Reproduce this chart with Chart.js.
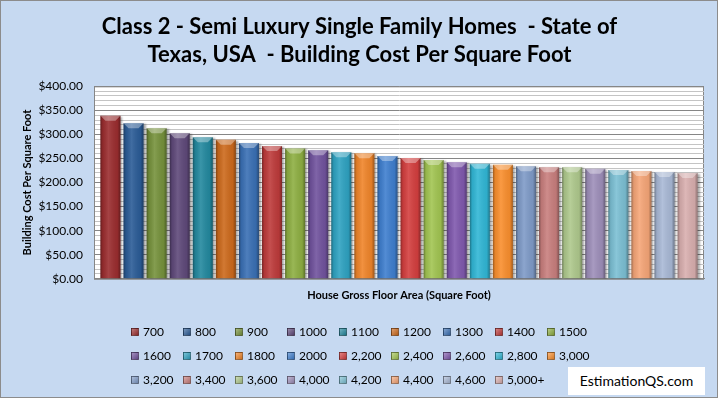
<!DOCTYPE html>
<html>
<head>
<meta charset="utf-8">
<script src="https://cdn.jsdelivr.net/npm/chart.js@4.4.1/dist/chart.umd.min.js"></script>
<style>
html, body { margin: 0; padding: 0; background: #fff; }
#box { position: relative; width: 716px; height: 396px; border: 1px solid #8c8c8c; background: #c6d9f1; }
#site { position: absolute; left: 567px; top: 366px; width: 137px; height: 28px; background: #fff;
        font: 14px Lato, sans-serif; line-height: 28px; text-align: center; color: #000; }
#legend { position: absolute; left: 130px; top: 319px; width: 468px; font: 12px Lato, sans-serif; color: #000; }
#legend span.item { display: inline-block; width: 52px; height: 24px; line-height: 24px; white-space: nowrap; }
#legend span.sw { display: inline-block; width: 6px; height: 6px; margin-right: 4px; vertical-align: -0px;
                  border: 1px solid rgba(0,0,0,0.35); }
</style>
</head>
<body>
<div id="box">
  <canvas id="myChart" width="716" height="396"></canvas>
  <div id="legend"></div>
  <div id="site">EstimationQS.com</div>
</div>
<script>
// house size bands (sq ft) and what each costs per sq ft
var categories = ['700', '800', '900', '1000', '1100', '1200', '1300', '1400', '1500',
                  '1600', '1700', '1800', '2000', '2,200', '2,400', '2,600', '2,800', '3,000',
                  '3,200', '3,400', '3,600', '4,000', '4,200', '4,400', '4,600', '5,000+']
var costPerSqFt = [339, 323, 313, 302.5, 294, 289, 282, 276, 271,
                   267, 263, 261, 255, 251, 247, 242, 239, 237,
                   234, 232, 232, 228.5, 226, 224, 222, 220]
var barColors = ['#9b2d2f', '#2b5c97', '#76923c', '#5f497a', '#23899f', '#cd6a1c', '#3a70b5', '#be3b3b', '#8eaf42',
                 '#71539e', '#2fa3c2', '#f0852a', '#3f7fcf', '#d43f3f', '#a2c552', '#8059ae', '#31b7d6', '#fa8f2e',
                 '#7f9bc8', '#c97f7e', '#afc98d', '#9e8fba', '#7cc0d4', '#f6a678', '#a9b9d6', '#d9afaf']
var yTicks = [0, 400, 10]   // min, max, step

var font = 'Lato'

// white plot area with a grey frame
var plotBg = {
    id: 'plotBg',
    beforeDraw: function(chart) {
        var a = chart.chartArea, c = chart.ctx
        c.save()
        c.fillStyle = '#fff'
        c.fillRect(a.left, a.top, a.right - a.left, a.bottom - a.top)
        c.strokeStyle = '#868686'
        c.lineWidth = 1
        c.strokeRect(a.left + 0.5, a.top + 0.5, a.right - a.left - 1, a.bottom - a.top)
        c.restore()
    }
}

// excel style shading: drop shadow, rounded look and a bevelled top
var shade = {
    id: 'shade',
    beforeDatasetsDraw: function(chart) {
        var c = chart.ctx
        c.save()
        c.shadowColor = 'rgba(0,0,0,0.35)'
        c.shadowOffsetX = 2
        c.shadowOffsetY = 1
        c.shadowBlur = 2
    },
    afterDatasetsDraw: function(chart) {
        var c = chart.ctx
        c.restore()
        c.save()
        chart.data.datasets.forEach(function(ds, i) {
            chart.getDatasetMeta(i).data.forEach(function(bar) {
                var p = bar.getProps(['x', 'y', 'base', 'width'], true)
                var l = p.x - p.width / 2, h = p.base - p.y
                var g = c.createLinearGradient(l, 0, l + p.width, 0)
                g.addColorStop(0, 'rgba(0,0,0,0.35)')
                g.addColorStop(0.12, 'rgba(0,0,0,0.08)')
                g.addColorStop(0.4, 'rgba(255,255,255,0.10)')
                g.addColorStop(0.85, 'rgba(0,0,0,0.06)')
                g.addColorStop(1, 'rgba(0,0,0,0.35)')
                c.fillStyle = g
                c.fillRect(l, p.y, p.width, h)
                var t = Math.min(5, h / 2)
                c.fillStyle = 'rgba(255,255,255,0.35)'
                c.beginPath()
                c.moveTo(l, p.y)
                c.lineTo(l + p.width, p.y)
                c.lineTo(l + p.width - t, p.y + t)
                c.lineTo(l + t, p.y + t)
                c.closePath()
                c.fill()
            })
        })
        c.restore()
    }
}

// excel lays the legend out as a fixed grid, 9 per row, so build it as html
var htmlLegend = {
    id: 'htmlLegend',
    afterUpdate: function(chart) {
        var box = document.getElementById('legend')
        box.innerHTML = ''
        chart.data.datasets.forEach(function(ds, i) {
            var item = document.createElement('span')
            item.className = 'item'
            var sw = document.createElement('span')
            sw.className = 'sw'
            sw.style.background = 'linear-gradient(135deg, rgba(255,255,255,0.35), rgba(0,0,0,0.15)), ' + ds.backgroundColor
            item.appendChild(sw)
            item.appendChild(document.createTextNode(ds.label))
            box.appendChild(item)
        })
    }
}

var datasets = categories.map(function(cat, i) {
    return {
        label: cat,
        data: [costPerSqFt[i]],
        backgroundColor: barColors[i],
        borderWidth: 0,
        categoryPercentage: 0.984,
        barPercentage: 0.867
    }
})

var ctx = document.getElementById('myChart')
var myChart = new Chart(ctx, {
    type: 'bar',
    data: { labels: [''], datasets: datasets },
    plugins: [plotBg, shade, htmlLegend],
    options: {
        responsive: false,
        animation: false,
        layout: { padding: { left: 14, right: 13, top: 0, bottom: 91 } },
        plugins: {
            title: {
                display: true,
                text: ['Class 2 - Semi Luxury Single Family Homes  - State of',
                       'Texas, USA  - Building Cost Per Square Foot'],
                color: '#000',
                font: { family: font, size: 22, weight: 'bold', lineHeight: 1.28 },
                padding: { top: 12, bottom: 17 }
            },
            legend: { display: false },
            tooltip: { enabled: false }
        },
        scales: {
            x: {
                grid: { display: false, drawTicks: false },
                ticks: { display: false },
                border: { display: true, color: '#868686' },
                title: {
                    display: true,
                    text: 'House Gross Floor Area (Square Foot)',
                    color: '#000',
                    font: { family: font, size: 11, weight: 'bold' },
                    padding: { top: 10, bottom: 4 }
                }
            },
            y: {
                min: yTicks[0],
                max: yTicks[1],
                afterFit: function(scale) { scale.width = 79 },
                grid: {
                    drawTicks: false,
                    color: function(c) { return c.tick && c.tick.value % 50 === 0 ? '#868686' : '#c4c4c4' }
                },
                border: { display: true, color: '#868686' },
                ticks: {
                    stepSize: yTicks[2],
                    autoSkip: false,
                    padding: 11,
                    color: '#000',
                    font: { family: font, size: 12 },
                    callback: function(v) { return v % 50 === 0 ? '$' + v.toFixed(2) : '' }
                },
                title: {
                    display: true,
                    text: 'Building Cost Per Square Foot',
                    color: '#000',
                    font: { family: font, size: 11, weight: 'bold' },
                    padding: { top: 6, bottom: 4 }
                }
            }
        }
    }
})
</script>
</body>
</html>
